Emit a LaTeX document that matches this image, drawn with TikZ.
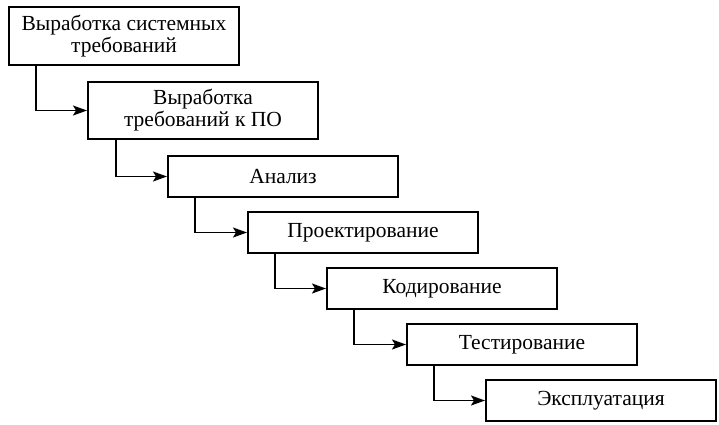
\documentclass[tikz,border=0pt]{standalone}
\usepackage{fontspec}
\setmainfont{Liberation Serif}
\usetikzlibrary{arrows.meta}
\begin{document}
\begin{tikzpicture}[x=1pt,y=1pt,
  box/.style={draw, line width=2pt, anchor=north west, minimum width=230pt, inner sep=0pt, align=center, font=\fontsize{21.5}{22}\selectfont},
  conn/.style={line width=1.8pt, -{Stealth[length=14pt,width=10pt,inset=3pt]}}]
\useasboundingbox (0,0) rectangle (719,-424);
\node[box, minimum height=58pt] (b1) at (8,-6) {Выработка системных\\требований};
\node[box, minimum height=57pt] (b2) at (87,-81) {Выработка\\требований к ПО};
\node[box, minimum height=41pt] (b3) at (167,-155) {Анализ};
\node[box, minimum height=41pt] (b4) at (247,-211) {Проектирование};
\node[box, minimum height=41pt] (b5) at (326,-267) {Кодирование};
\node[box, minimum height=41pt] (b6) at (406,-323) {Тестирование};
\node[box, minimum height=41pt] (b7) at (485,-379) {Эксплуатация};
\draw[conn] ([xshift=28pt]b1.south west) |- (b2.west);
\draw[conn] ([xshift=29pt]b2.south west) |- (b3.west);
\draw[conn] ([xshift=28pt]b3.south west) |- (b4.west);
\draw[conn] ([xshift=28pt]b4.south west) |- (b5.west);
\draw[conn] ([xshift=28pt]b5.south west) |- (b6.west);
\draw[conn] ([xshift=28pt]b6.south west) |- (b7.west);
\end{tikzpicture}
\end{document}
